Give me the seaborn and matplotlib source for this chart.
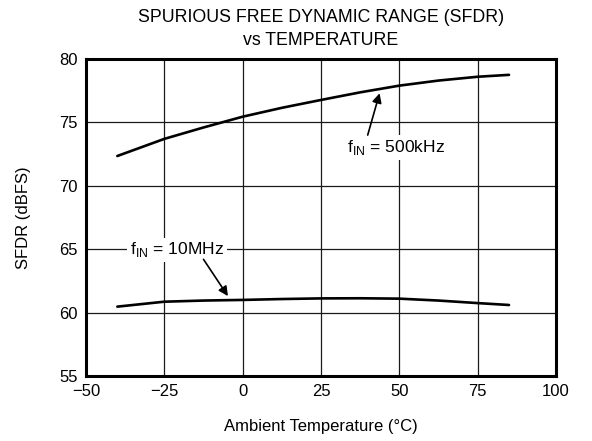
import numpy as np
import pandas as pd
import seaborn as sns
import matplotlib.pyplot as plt

# values
temp_500k = [-40, -25, -12.5, 0, 12.5, 25, 37.5, 50, 62.5, 75, 85]
sfdr_500k = [72.35, 73.7, 74.6, 75.45, 76.15, 76.77, 77.37, 77.9, 78.3, 78.6, 78.75]
temp_10m = [-40, -25, -12.5, 0, 12.5, 25, 37.5, 50, 62.5, 75, 85]
sfdr_10m = [60.47, 60.86, 60.95, 61.0, 61.07, 61.12, 61.13, 61.1, 60.95, 60.75, 60.6]

x_ticks = [-50, -25, 0, 25, 50, 75, 100]
y_ticks = [55, 60, 65, 70, 75, 80]

sns.set_theme(style='white')
plt.rcParams['font.family'] = ['Liberation Sans', 'DejaVu Sans']
plt.rcParams['mathtext.fontset'] = 'custom'
plt.rcParams['mathtext.rm'] = 'Liberation Sans'
plt.rcParams['text.color'] = 'black'
plt.rcParams['axes.labelcolor'] = 'black'
plt.rcParams['xtick.color'] = 'black'
plt.rcParams['ytick.color'] = 'black'

df = pd.concat([
    pd.DataFrame({'temp': temp_500k, 'sfdr': sfdr_500k, 'freq': '500kHz'}),
    pd.DataFrame({'temp': temp_10m, 'sfdr': sfdr_10m, 'freq': '10MHz'}),
])

fig = plt.figure(figsize=(5.92, 4.41), dpi=100)
ax = fig.add_axes([86/592, 65/441, 470/592, 317/441])

sns.lineplot(data=df, x='temp', y='sfdr', units='freq', estimator=None,
             color='black', linewidth=1.9, ax=ax, zorder=3)

ax.set_xlim(-50, 100)
ax.set_ylim(55, 80)
ax.set_xticks(x_ticks)
ax.set_yticks(y_ticks)
ax.grid(True, color='0.1', linewidth=0.9)
ax.tick_params(length=0, labelsize=12, pad=6)
for s in ax.spines.values():
    s.set_linewidth(2.2)
    s.set_color('black')

ax.set_xlabel('Ambient Temperature (°C)', fontsize=12, labelpad=14)
ax.set_ylabel('SFDR (dBFS)', fontsize=12, labelpad=20)
ax.set_title('SPURIOUS FREE DYNAMIC RANGE (SFDR)\nvs TEMPERATURE', fontsize=12.8,
             pad=10, linespacing=1.45)

box = dict(facecolor='white', edgecolor='none', pad=2)
arrow = dict(arrowstyle='-|>', color='black', lw=1.2, shrinkA=0, shrinkB=0,
             mutation_scale=14)

# 500kHz label + arrow
ax.text(49, 73.0, r'f$_{\mathrm{IN}}$ = 500kHz', ha='center', va='center',
        fontsize=12.6, bbox=box, zorder=4)
ax.annotate('', xy=(43.7, 77.3), xytext=(39.9, 74.0), arrowprops=arrow, zorder=5)

# 10MHz label + arrow
ax.text(-21, 64.95, r'f$_{\mathrm{IN}}$ = 10MHz', ha='center', va='center',
        fontsize=12.6, bbox=box, zorder=4)
ax.annotate('', xy=(-4.7, 61.3), xytext=(-12.5, 64.2), arrowprops=arrow, zorder=5)

fig.savefig('out.png', dpi=100)
